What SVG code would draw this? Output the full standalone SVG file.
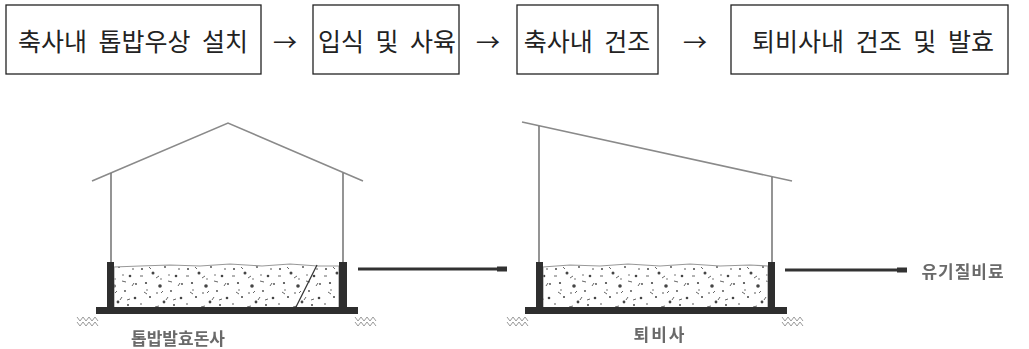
<svg xmlns="http://www.w3.org/2000/svg" width="1029" height="349" viewBox="0 0 1029 349">
  <defs>
    <style>
      .box { fill: #fff; stroke: #222; stroke-width: 1.3; }
      .step { font-family: "Noto Sans CJK KR", "Noto Sans", sans-serif; font-size: 25px; fill: #222; text-anchor: middle; dominant-baseline: central; word-spacing: 6px; }
      .arr { font-family: "Noto Sans CJK KR", sans-serif; font-size: 24px; fill: #222; text-anchor: middle; dominant-baseline: central; }
      .thin { fill: none; stroke: #8a8a8a; stroke-width: 1.6; }
      .post { fill: none; stroke: #7a7a7a; stroke-width: 1.6; }
      .wall { fill: #2e2e2e; }
      .heap { fill: url(#speckle); stroke: #999; stroke-width: 1.2; }
      .flow { stroke: #333; stroke-width: 3; fill: none; }
      .lbl { font-family: "Noto Sans CJK KR", sans-serif; font-size: 17px; font-weight: bold; fill: #6a6a6a; text-anchor: middle; dominant-baseline: central; }
      .gnd { stroke: #999; stroke-width: 1; fill: none; }
    </style>
    <!-- speckled bedding material -->
    <pattern id="speckle" width="46" height="44" patternUnits="userSpaceOnUse">
      <rect width="46" height="44" fill="#fff"/>
      <g fill="#444">
        <circle cx="4" cy="5" r="1"/>
        <circle cx="15" cy="9" r="1.5"/>
        <circle cx="27" cy="3" r="0.9"/>
        <circle cx="38" cy="12" r="1.3"/>
        <circle cx="8" cy="19" r="1.1"/>
        <circle cx="22" cy="22" r="1.8"/>
        <circle cx="33" cy="27" r="0.9"/>
        <circle cx="43" cy="34" r="1.3"/>
        <circle cx="12" cy="33" r="1"/>
        <circle cx="26" cy="38" r="1.4"/>
        <circle cx="3" cy="40" r="0.8"/>
        <circle cx="36" cy="41" r="1"/>
        <circle cx="19" cy="29" r="0.8"/>
        <circle cx="41" cy="5" r="0.8"/>
        <circle cx="31" cy="11" r="0.7"/>
        <circle cx="9" cy="26" r="0.7"/>
        <circle cx="44" cy="20" r="0.9"/>
        <circle cx="23" cy="15" r="0.7"/>
      </g>
      <g stroke="#666" stroke-width="1" fill="none">
        <path d="M18 14 l3 -2"/>
        <path d="M30 17 l4 1"/>
        <path d="M6 28 l3 2"/>
        <path d="M40 22 l2 -3"/>
        <path d="M17 43 l4 -1"/>
        <path d="M30 33 l-2 3"/>
        <path d="M2 12 l3 0"/>
        <path d="M11 3 l2 2"/>
        <path d="M35 36 l3 -1"/>
        <path d="M25 27 l-2 2"/>
      </g>
    </pattern>
    <!-- soil hatching at foundation ends -->
    <g id="soil" class="gnd">
      <path d="M0 2 l3 4 l3 -4 l3 4 l3 -4 l3 4 l3 -4 l3 4"/>
      <path d="M0 7 l3 4 l3 -4 l3 4 l3 -4 l3 4 l3 -4 l3 4"/>
    </g>
    <filter id="soft" x="-2%" y="-5%" width="104%" height="110%">
      <feGaussianBlur stdDeviation="0.6"/>
    </filter>
  </defs>

  <rect width="1029" height="349" fill="#fff"/>

  <!-- process steps -->
  <g id="step1">
    <rect class="box" x="6" y="5" width="255" height="69"/>
    <text class="step" x="133" y="40">축사내 톱밥우상 설치</text>
  </g>
  <g id="step2">
    <rect class="box" x="313" y="5" width="146" height="69"/>
    <text class="step" x="387" y="40" word-spacing="3">입식 및 사육</text>
  </g>
  <g id="step3">
    <rect class="box" x="517" y="5" width="141" height="69"/>
    <text class="step" x="587" y="40">축사내 건조</text>
  </g>
  <g id="step4">
    <rect class="box" x="731" y="5" width="277" height="69"/>
    <text class="step" x="873" y="40">퇴비사내 건조 및 발효</text>
  </g>

  <g id="connectors">
    <text class="arr" x="285" y="40">→</text>
    <text class="arr" x="488" y="40">→</text>
    <text class="arr" x="695" y="40">→</text>
    <!-- material flow between buildings -->
    <g filter="url(#soft)">
      <line class="flow" x1="358" y1="269" x2="505" y2="269"/>
      <rect x="497" y="266.5" width="10" height="5" fill="#333"/>
      <line class="flow" x1="785" y1="270" x2="905" y2="270"/>
      <rect x="897" y="267.5" width="10" height="5" fill="#333"/>
    </g>
  </g>

  <!-- fermentation barn -->
  <g id="barn" filter="url(#soft)">
    <polyline class="thin" points="92,181 228,123 363,181"/>
    <line class="post" x1="111" y1="173" x2="111" y2="262"/>
    <line class="post" x1="343" y1="173" x2="343" y2="262"/>
    <path class="heap" d="M114 308 L114 267 L140 266 L170 265 L200 266 L230 264 L262 266 L290 264 L318 266 L339 266 L339 308 Z"/>
    <line x1="317" y1="265" x2="293" y2="313" stroke="#333" stroke-width="1.2"/>
    <rect class="wall" x="107" y="262" width="7" height="50"/>
    <rect class="wall" x="339" y="262" width="8" height="50"/>
    <rect class="wall" x="96" y="307" width="262" height="7"/>
    <use href="#soil" x="77" y="315"/>
    <use href="#soil" x="355" y="315"/>
    <text class="lbl" x="178" y="337">톱밥발효돈사</text>
  </g>

  <!-- compost shed -->
  <g id="shed" filter="url(#soft)">
    <line class="thin" x1="522" y1="122" x2="792" y2="181"/>
    <line class="post" x1="539" y1="126" x2="539" y2="262"/>
    <line class="post" x1="772" y1="177" x2="772" y2="262"/>
    <path class="heap" d="M543 308 L543 267 L570 265 L600 266 L628 264 L660 266 L690 264 L720 266 L750 265 L768 266 L768 308 Z"/>
    <rect class="wall" x="536" y="262" width="7" height="50"/>
    <rect class="wall" x="768" y="262" width="7" height="50"/>
    <rect class="wall" x="525" y="307" width="262" height="7"/>
    <use href="#soil" x="507" y="315"/>
    <use href="#soil" x="782" y="315"/>
    <text class="lbl" x="660" y="333" letter-spacing="2">퇴비사</text>
  </g>

  <g id="product" filter="url(#soft)">
    <text class="lbl" x="963" y="270" font-size="16" letter-spacing="1">유기질비료</text>
  </g>
</svg>
